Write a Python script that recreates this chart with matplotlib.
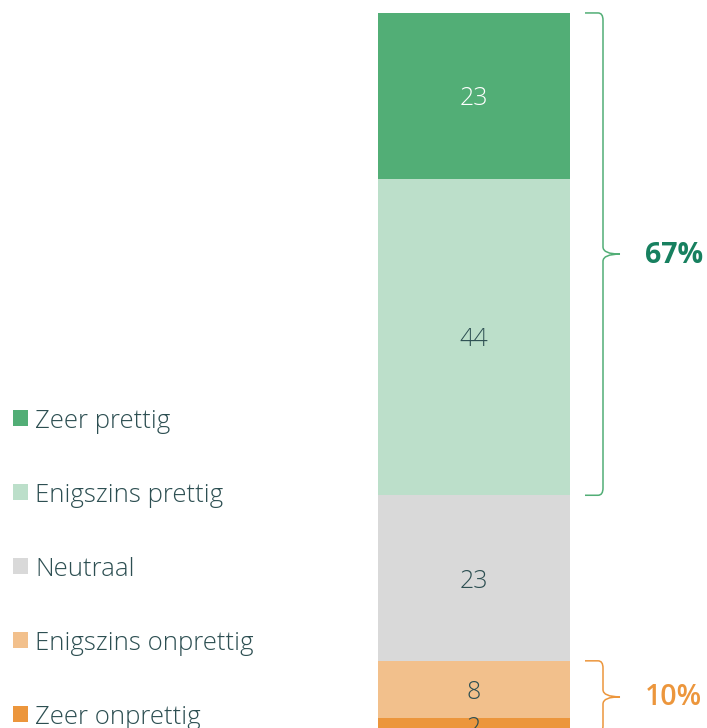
import matplotlib
matplotlib.use("Agg")
import matplotlib.pyplot as plt
from matplotlib.path import Path
from matplotlib.patches import PathPatch, Rectangle

# data
categories = ["Zeer onprettig", "Enigszins onprettig", "Neutraal", "Enigszins prettig", "Zeer prettig"]
values = [2, 8, 23, 44, 23]
colors = ["#ec963c", "#f2c08c", "#d9d9d9", "#bcdfca", "#52ae76"]
label_colors = ["#2d4f52", "#2d4f52", "#2d4f52", "#2d4f52", "#ffffff"]
groups = [("10%", 0, 2, "#ec963c", "semibold"), ("67%", 3, 5, "#17805f", "bold")]

text_col = "#2d4f52"
plt.rcParams['font.family'] = ['Open Sans', 'DejaVu Sans']

fig = plt.figure(figsize=(7.07, 7.28), dpi=100)
ax = fig.add_axes([0, 0, 1, 1])
ax.set_xlim(0, 707)
ax.set_ylim(0.67, 101.8)
ax.axis('off')

# px -> data units in y
u = (101.8 - 0.67) / 728

# stacked bar
bottom = 0
bottoms = []
for v, c, lc in zip(values, colors, label_colors):
    ax.bar(474, v, width=192, bottom=bottom, color=c, linewidth=0)
    ax.text(474, bottom + v / 2 - 3 * u, str(v), ha='center', va='center',
            fontsize=18, color=lc, fontweight='light')
    bottoms.append(bottom)
    bottom += v
bottoms.append(bottom)

# braces
def brace(y0, y1, color):
    r = 1.0
    mid = (y0 + y1) / 2
    verts = [(585, y1), (598, y1), (603, y1), (603, y1 - r), (603, mid + r),
             (603, mid), (620, mid),
             (620, mid), (603, mid), (603, mid - r), (603, y0 + r),
             (603, y0), (598, y0), (585, y0)]
    codes = [Path.MOVETO, Path.LINETO, Path.CURVE3, Path.CURVE3, Path.LINETO,
             Path.CURVE3, Path.CURVE3,
             Path.MOVETO, Path.CURVE3, Path.CURVE3, Path.LINETO,
             Path.CURVE3, Path.CURVE3, Path.LINETO]
    ax.add_patch(PathPatch(Path(verts, codes), facecolor='none',
                           edgecolor=color, linewidth=1.1, clip_on=False))
    return mid

for lab, i0, i1, col, wt in groups:
    y0 = bottoms[i0]
    y1 = bottoms[i1]
    mid = brace(y0, y1, colors[i1 - 1] if i0 > 0 else colors[0])
    ax.text(645, mid - 1 * u, lab, ha='left', va='center', fontsize=20.5,
            color=col, fontweight=wt)

# legend
leg_y = [418, 492, 566, 640, 714]
for name, c, yp in zip(categories[::-1], colors[::-1], leg_y):
    yd = 101.8 - yp * u
    ax.add_patch(Rectangle((13, yd - 1.05), 15, 2.1, facecolor=c, linewidth=0))
    ax.text(35, yd - 3 * u, name, ha='left', va='center', fontsize=18.5,
            color=text_col, fontweight='light')

fig.savefig("out.png", dpi=100)
